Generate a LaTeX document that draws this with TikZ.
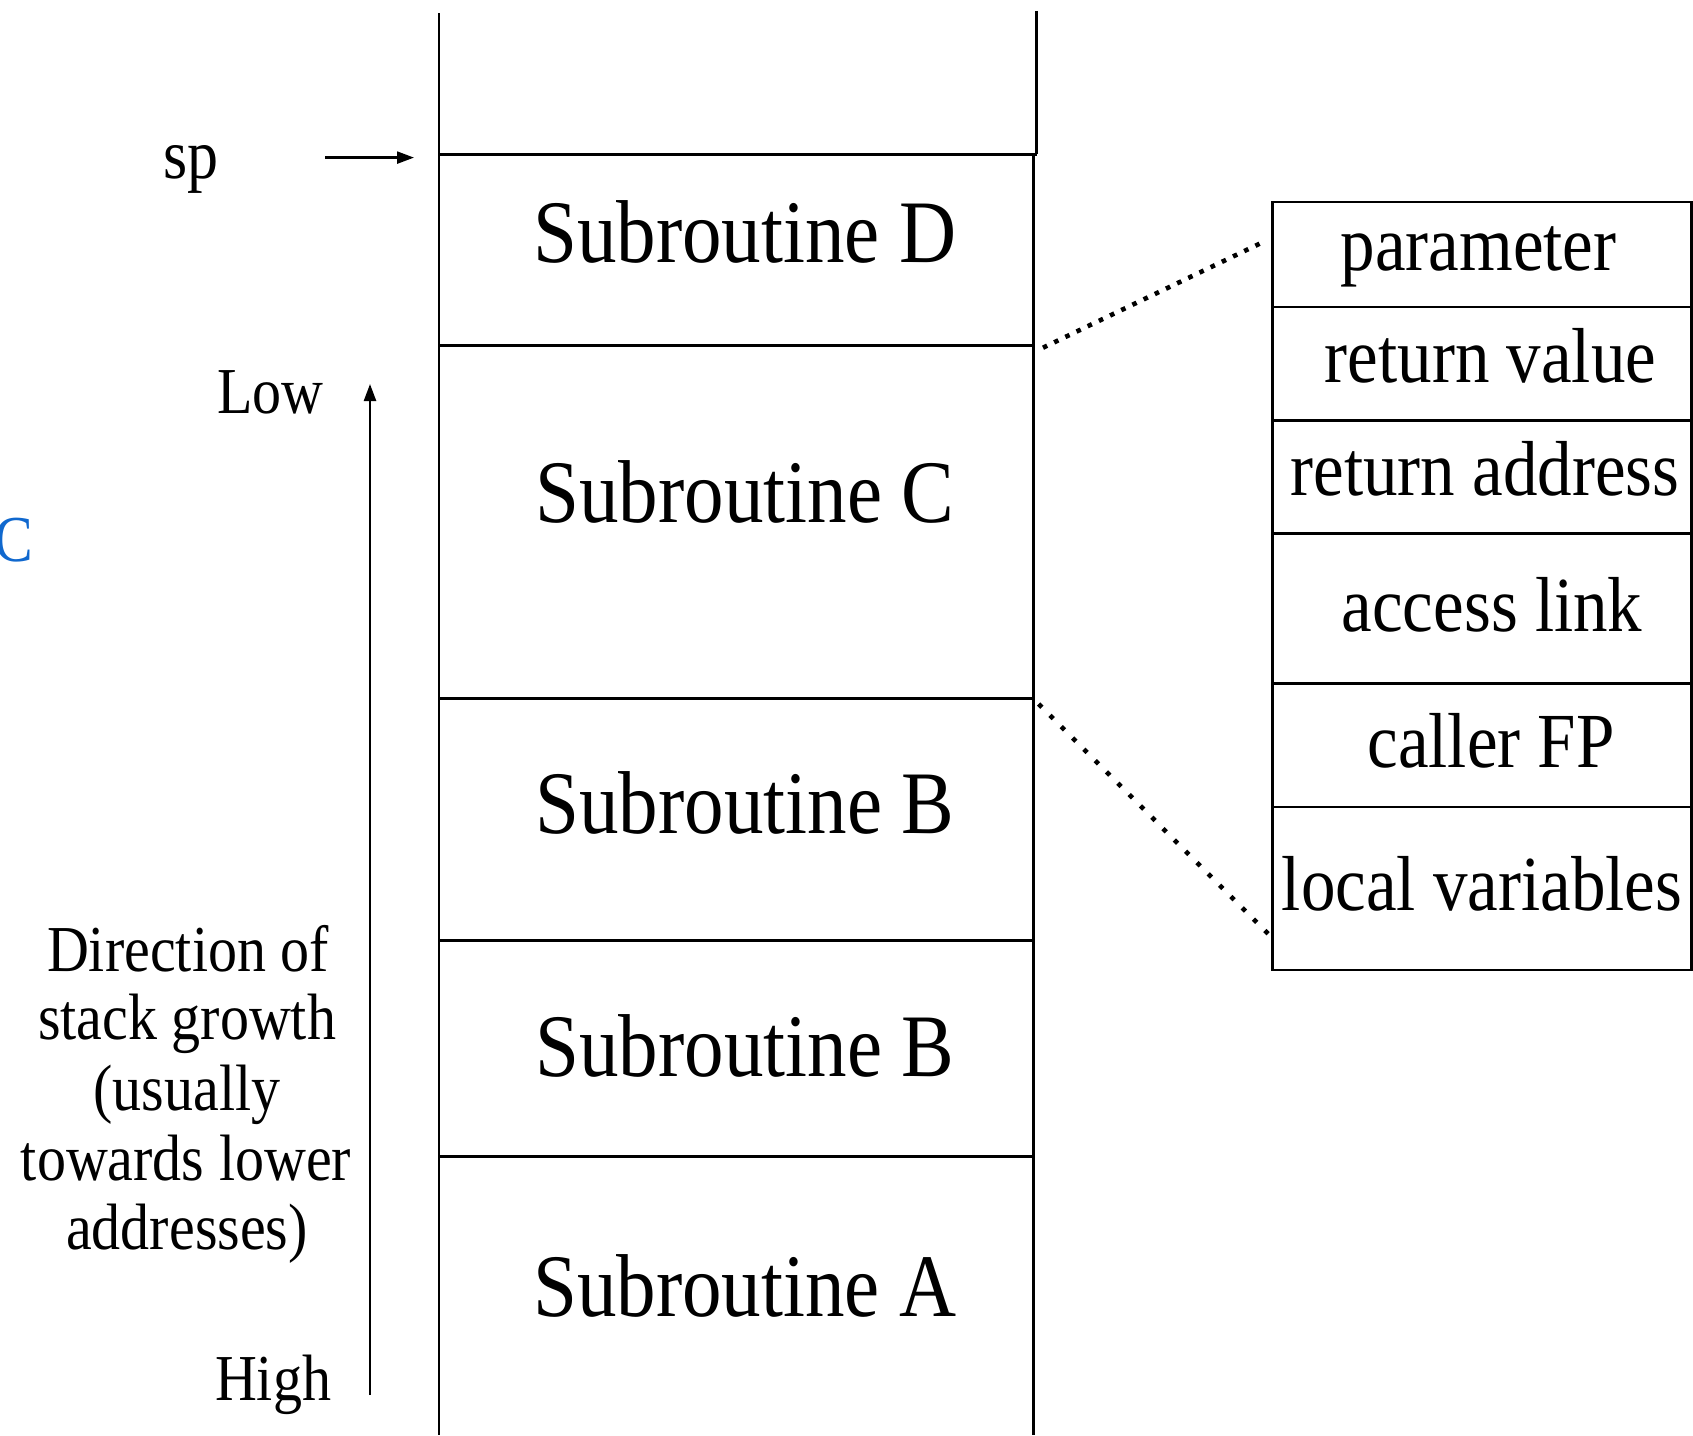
\documentclass[tikz,border=0pt]{standalone}
\usepackage{fontspec}
\setmainfont{Liberation Serif}
\usepackage{graphicx}
\usetikzlibrary{arrows.meta}
% tall serif lettering
\newcommand\tall[1]{\scalebox{1}[1.13]{#1}}
\definecolor{linkblue}{RGB}{16,104,206}

\begin{document}
\begin{tikzpicture}[x=1pt,y=-1pt,
  wall/.style={line width=2.5pt},
  cell/.style={draw, line width=2.5pt, anchor=north west, inner sep=0pt,
    minimum width=419pt},
  frametext/.style={font=\fontsize{79}{90}\selectfont, inner sep=0pt, anchor=base},
  celltext/.style={font=\fontsize{69}{80}\selectfont, inner sep=0pt, anchor=base},
  sidetext/.style={font=\fontsize{58}{66}\selectfont, inner sep=0pt, anchor=base},
  pointer/.style={line width=2.4pt, -{Triangle[length=17pt,width=12pt]}},
  zoomline/.style={line width=4.6pt, line cap=butt},
]
\useasboundingbox (0,0) rectangle (1693,1435);

% ---- run-time stack ----
\coordinate (stackTL) at (439,13);
\coordinate (stackTR) at (1036.5,10.8);
\coordinate (spL) at (439,154.4);
\coordinate (spR) at (1036.5,154.4);
\coordinate (dcR) at (1033.3,345.5);
\coordinate (cbR) at (1033.3,698.6);

\draw[wall] (stackTL) -- (439,1435);
\draw[wall] (stackTR) -- (spR);
\draw[wall] (1033.3,154.4) -- (1033.3,1435);
\draw[wall] (spL) -- (spR);
\foreach \yy in {345.5, 698.6, 940.4, 1156.4}
  \draw[wall] (439,\yy) -- (1033.3,\yy);

\node[frametext] (subD)  at (745,262)    {\tall{Subroutine D}};
\node[frametext] (subC)  at (745,522.6)  {\tall{Subroutine C}};
\node[frametext] (subB1) at (745,833.5)  {\tall{Subroutine B}};
\node[frametext] (subB2) at (745,1076.5) {\tall{Subroutine B}};
\node[frametext] (subA)  at (745,1316)   {\tall{Subroutine A}};

% ---- stack pointer ----
\node[sidetext, font=\fontsize{62}{70}\selectfont] (sp) at (191,178) {\tall{sp}};
\coordinate (spTail) at (325,157.6);
\coordinate (spTip) at (414,157.6);
\draw[pointer] (spTail) -- (spTip);

% ---- growth direction ----
\node[sidetext] (low)  at (270.5,413.5) {\tall{Low}};
\node[sidetext] (high) at (273,1400)    {\tall{High}};
\coordinate (growTail) at (370,1395);
\coordinate (growTip) at (370,384);
\draw[pointer] (growTail) -- (growTip);

\node[sidetext] (dir1) at (188,971.7)  {\tall{Direction of}};
\node[sidetext] (dir2) at (187,1039.7) {\tall{stack growth}};
\node[sidetext] (dir3) at (187,1110)   {\tall{(usually}};
\node[sidetext] (dir4) at (186,1180)   {\tall{towards lower}};
\node[sidetext] (dir5) at (187,1249.2) {\tall{addresses)}};

\node[sidetext, anchor=base west, text=linkblue] (blueC) at (-6,561) {\tall{C}};

% ---- activation record ----
\node[cell, minimum height=104.8pt] (param)  at (1271,200.8) {};
\node[cell, minimum height=113.4pt] (retval) at (1271,305.6) {};
\node[cell, minimum height=113.3pt] (retadr) at (1271,419)   {};
\node[cell, minimum height=150.1pt] (access) at (1271,532.3) {};
\node[cell, minimum height=123.1pt] (callfp) at (1271,682.4) {};
\node[cell, minimum height=163pt]   (locals) at (1271,805.5) {};

\node[celltext] (paramT)  at (1478.6,270)   {\tall{parameter}};
\node[celltext] (retvalT) at (1490.5,382)   {\tall{return value}};
\node[celltext] (retadrT) at (1485,495.6)   {\tall{return address}};
\node[celltext] (accessT) at (1492,631.6)   {\tall{access link}};
\node[celltext] (callfpT) at (1491,767.7)   {\tall{caller FP}};
\node[celltext] (localsT) at (1482,910)     {\tall{local variables}};

% ---- zoom lines from frame C to its record ----
\draw[zoomline, dash pattern=on 4.6pt off 7.8pt]
  ([shift={(9.7,2.2)}]dcR) -- ([shift={(-5.6,-13.5)}]param.west);
\draw[zoomline, dash pattern=on 4.6pt off 11.4pt]
  ([shift={(5.4,5.4)}]cbR) -- ([shift={(-2.4,-36.7)}]locals.south west);
\end{tikzpicture}
\end{document}
